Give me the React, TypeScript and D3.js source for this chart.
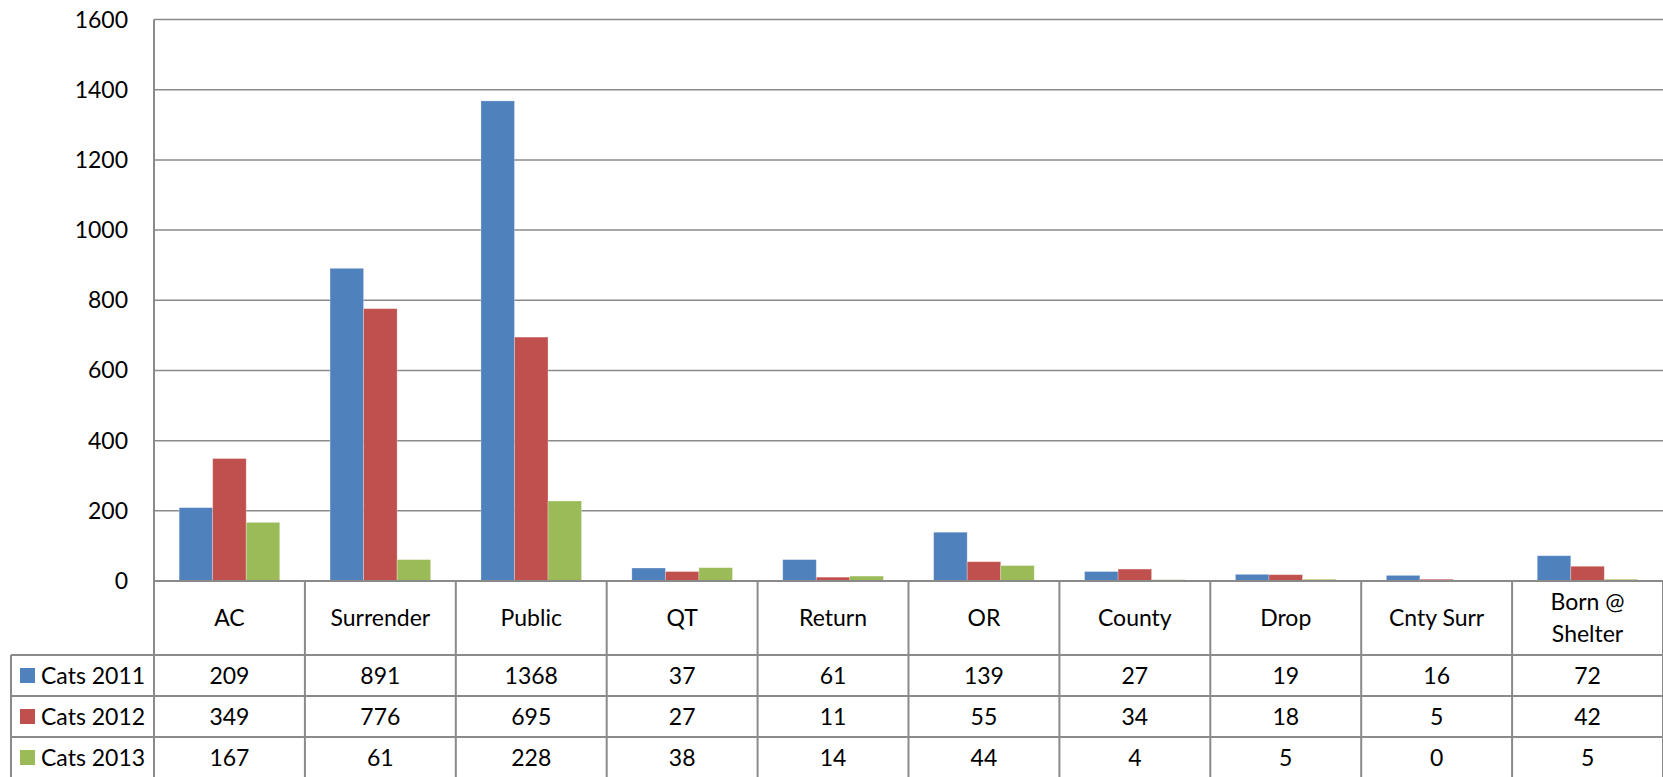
import React, { useEffect, useRef } from 'react';
import * as d3 from 'd3';

const categories = ['AC', 'Surrender', 'Public', 'QT', 'Return', 'OR', 'County', 'Drop', 'Cnty Surr', 'Born @\nShelter'];
const seriesNames = ['Cats 2011', 'Cats 2012', 'Cats 2013'];
const cats2011 = [209, 891, 1368, 37, 61, 139, 27, 19, 16, 72];
const cats2012 = [349, 776, 695, 27, 11, 55, 34, 18, 5, 42];
const cats2013 = [167, 61, 228, 38, 14, 44, 4, 5, 0, 5];
const yTicks = [0, 200, 400, 600, 800, 1000, 1200, 1400, 1600];
const colors = ['#4F81BD', '#C0504D', '#9BBB59'];

const App = () => {
    const svgRef = useRef(null);

    useEffect(() => {
        const W = 1663, H = 777;
        const left = 154, right = 1663, top = 19.5, zeroY = 581;
        const rowH = 41;
        const catRowBottom = 655;
        const tableLeft = 11;
        const font = 'Lato, "Open Sans", sans-serif';
        const fs = 23;
        const gridColor = '#8a8a8a';
        const allSeries = [cats2011, cats2012, cats2013];

        const svg = d3.select(svgRef.current);
        svg.selectAll('*').remove();
        svg.attr('width', W).attr('height', H);

        const x = d3.scaleBand().domain(categories).range([left, right]).paddingInner(0).paddingOuter(0);
        const xs = d3.scaleBand().domain(seriesNames).range([0, x.bandwidth()]).paddingOuter(0.75).paddingInner(0);
        const y = d3.scaleLinear().domain([0, 1600]).range([zeroY, top]);

        // gridlines
        svg.append('g')
            .selectAll('line')
            .data(yTicks)
            .enter().append('line')
            .attr('x1', left).attr('x2', right)
            .attr('y1', d => y(d)).attr('y2', d => y(d))
            .attr('stroke', gridColor).attr('stroke-width', 1.5);

        // y tick labels
        svg.append('g')
            .selectAll('text')
            .data(yTicks)
            .enter().append('text')
            .attr('x', 128)
            .attr('y', d => y(d))
            .attr('dy', '0.35em')
            .attr('text-anchor', 'end')
            .style('font-family', font)
            .style('font-size', fs + 'px')
            .attr('fill', '#000')
            .text(d => d);

        // bars
        seriesNames.forEach((s, si) => {
            svg.append('g')
                .selectAll('rect')
                .data(allSeries[si])
                .enter().append('rect')
                .attr('x', (d, i) => x(categories[i]) + xs(s))
                .attr('y', d => y(d))
                .attr('width', xs.bandwidth())
                .attr('height', d => zeroY - y(d))
                .attr('fill', colors[si])
                .attr('stroke', 'rgba(255,255,255,0.35)')
                .attr('stroke-width', 0.8);
        });

        // table lines
        const t = svg.append('g').attr('stroke', gridColor).attr('stroke-width', 2).attr('fill', 'none');
        // left axis line
        t.append('line').attr('x1', left).attr('x2', left).attr('y1', top).attr('y2', H);
        // bottom axis line
        t.append('line').attr('x1', left).attr('x2', right).attr('y1', zeroY).attr('y2', zeroY);
        // category boundaries
        categories.forEach((c, i) => {
            const bx = x(c) + x.bandwidth();
            t.append('line').attr('x1', bx).attr('x2', bx).attr('y1', zeroY).attr('y2', H);
        });
        // row lines
        [catRowBottom, catRowBottom + rowH, catRowBottom + rowH * 2].forEach(ry => {
            t.append('line').attr('x1', tableLeft).attr('x2', right).attr('y1', ry).attr('y2', ry);
        });
        t.append('line').attr('x1', tableLeft).attr('x2', tableLeft).attr('y1', catRowBottom).attr('y2', H);

        // category labels
        const catMid = (zeroY + catRowBottom) / 2;
        categories.forEach(c => {
            const lines = c.split('\n');
            const txt = svg.append('text')
                .attr('x', x(c) + x.bandwidth() / 2)
                .attr('text-anchor', 'middle')
                .style('font-family', font)
                .style('font-size', fs + 'px')
                .attr('fill', '#000');
            const lh = 32;
            lines.forEach((l, li) => {
                txt.append('tspan')
                    .attr('x', x(c) + x.bandwidth() / 2)
                    .attr('y', catMid + (li - (lines.length - 1) / 2) * lh)
                    .attr('dy', '0.35em')
                    .text(l);
            });
        });

        // data rows with legend keys
        seriesNames.forEach((s, si) => {
            const cy = catRowBottom + rowH * si + rowH / 2;
            svg.append('rect')
                .attr('x', 20).attr('y', cy - 7.5)
                .attr('width', 15).attr('height', 15)
                .attr('fill', colors[si]);
            svg.append('text')
                .attr('x', 41).attr('y', cy).attr('dy', '0.35em')
                .style('font-family', font)
                .style('font-size', fs + 'px')
                .attr('fill', '#000')
                .text(s);
            svg.append('g')
                .selectAll('text')
                .data(allSeries[si])
                .enter().append('text')
                .attr('x', (d, i) => x(categories[i]) + x.bandwidth() / 2)
                .attr('y', cy).attr('dy', '0.35em')
                .attr('text-anchor', 'middle')
                .style('font-family', font)
                .style('font-size', fs + 'px')
                .attr('fill', '#000')
                .text(d => d);
        });
    }, []);

    return (
        <svg ref={svgRef} style={{ position: 'absolute', left: 0, top: 0, display: 'block', background: '#fff' }}></svg>
    );
};

export default App;
